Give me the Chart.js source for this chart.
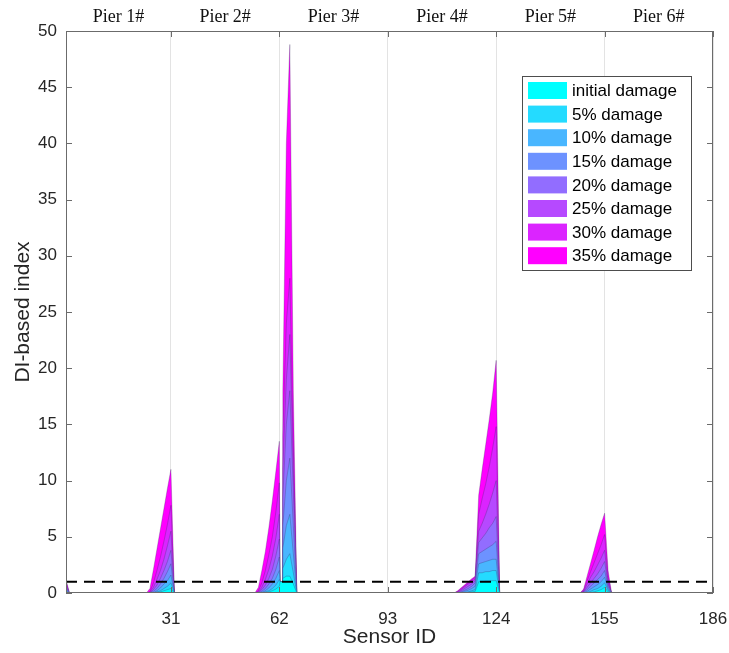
<!DOCTYPE html>
<html>
<head>
<meta charset="utf-8">
<script src="https://cdn.jsdelivr.net/npm/chart.js@4.4.0/dist/chart.umd.min.js"></script>
<style>
  html, body { margin: 0; padding: 0; background: #fff; }
  #caja { width: 729px; height: 653px; }
</style>
</head>
<body>
<div id="caja"><canvas id="grafica" width="729" height="653"></canvas></div>
<script>
// posiciones de sensores (solo los puntos donde cambia la curva)
const sensorIds = [1, 2, 24, 25, 26, 27, 28, 29, 30, 31, 32, 55, 56, 57, 58, 59, 60, 61, 62, 62.2, 62.9, 63, 64, 65, 66, 67,
    112, 113, 114, 115, 116, 117, 118, 119, 120, 121, 122, 123, 124, 125, 148, 149, 150, 151, 152, 153, 154, 155, 156, 157, 186];

const d00 = [0.05, 0,
    0, 0, 0, 0.05, 0.1, 0.2, 0.3, 0.4, 0,
    0, 0, 0, 0, 0.1, 0.2, 0.35, 0.6, 1.0, 1.0, 1.3, 1.5, 1.5, 0.8, 0,
    0, 0, 0, 0, 0.05, 0.1, 0.15, 1.0, 1.0, 1.05, 1.05, 1.1, 1.1, 0,
    0, 0, 0, 0.05, 0.1, 0.2, 0.3, 0.5, 0.1, 0, 0];
const d05 = [0.15, 0,
    0, 0, 0, 0.1, 0.2, 0.4, 0.6, 0.9, 0,
    0, 0, 0, 0.1, 0.2, 0.4, 0.7, 1.2, 1.0, 1.0, 2.2, 3, 3.5, 1.8, 0,
    0, 0, 0, 0.05, 0.1, 0.2, 0.3, 1.8, 1.8, 1.9, 1.9, 2.0, 2.0, 0,
    0, 0, 0.05, 0.15, 0.3, 0.4, 0.6, 0.9, 0.25, 0, 0];
const d10 = [0.3, 0,
    0, 0, 0.05, 0.2, 0.45, 0.8, 1.1, 1.6, 0,
    0, 0, 0.05, 0.2, 0.45, 0.8, 1.3, 2.0, 1.0, 1.0, 4, 6, 7, 3.5, 0,
    0, 0, 0.05, 0.15, 0.25, 0.4, 0.6, 2.6, 2.7, 2.8, 2.9, 3.0, 3.0, 0,
    0, 0, 0.15, 0.35, 0.55, 0.75, 1.0, 1.4, 0.4, 0, 0];
const d15 = [0.45, 0,
    0, 0, 0.15, 0.4, 0.8, 1.3, 1.9, 2.6, 0,
    0, 0, 0.15, 0.4, 0.8, 1.3, 2.1, 3.2, 1.0, 1.0, 6, 10, 12, 6, 0,
    0, 0, 0.1, 0.25, 0.4, 0.6, 0.9, 3.5, 3.7, 3.9, 4.1, 4.3, 4.6, 0,
    0, 0.05, 0.3, 0.6, 0.9, 1.2, 1.5, 2.0, 0.6, 0, 0];
const d20 = [0.6, 0,
    0, 0, 0.3, 0.7, 1.3, 2.0, 2.8, 3.8, 0,
    0, 0.05, 0.3, 0.7, 1.3, 2.1, 3.3, 4.8, 1.0, 1.0, 8.5, 15, 18, 9, 0,
    0, 0.05, 0.2, 0.4, 0.6, 0.8, 1.1, 4.5, 4.9, 5.3, 5.8, 6.2, 6.8, 0,
    0, 0.1, 0.5, 0.9, 1.3, 1.7, 2.2, 2.8, 0.8, 0, 0];
const d25 = [0.8, 0,
    0, 0.05, 0.5, 1.2, 2.0, 3.0, 4.2, 5.5, 0,
    0, 0.1, 0.5, 1.2, 2.1, 3.3, 4.9, 7.0, 1.0, 1.0, 11, 19, 23, 11, 0,
    0, 0.1, 0.3, 0.55, 0.8, 1.0, 1.25, 5.5, 6.2, 7.0, 7.9, 8.9, 10.0, 0,
    0, 0.15, 0.8, 1.4, 1.9, 2.5, 3.1, 3.8, 1.0, 0, 0];
const d30 = [1.0, 0,
    0, 0.1, 0.9, 2.0, 3.2, 4.6, 6.1, 7.8, 0,
    0, 0.2, 0.9, 2.0, 3.4, 5.0, 7.2, 9.8, 1.0, 1.0, 14, 24, 28, 13, 0,
    0, 0.15, 0.4, 0.65, 0.9, 1.15, 1.4, 7.0, 8.4, 9.7, 11.2, 12.9, 14.8, 0,
    0, 0.25, 1.1, 1.9, 2.7, 3.5, 4.3, 5.2, 1.4, 0, 0];
const d35 = [1.2, 0,
    0, 0.4, 2.1, 3.9, 5.7, 7.5, 9.3, 11.0, 0,
    0, 0.5, 2.0, 3.7, 5.8, 8.2, 10.8, 13.5, 1.0, 1.0, 18, 40, 48.8, 18, 0,
    0, 0.2, 0.47, 0.73, 1.0, 1.26, 1.5, 8.7, 11.0, 13.2, 15.4, 17.8, 20.7, 0,
    0, 0.35, 1.5, 2.65, 3.8, 5.0, 6.1, 7.1, 2.0, 0, 0];

const etiquetas = ['initial damage', '5% damage', '10% damage', '15% damage', '20% damage', '25% damage', '30% damage', '35% damage'];
const series = [d00, d05, d10, d15, d20, d25, d30, d35];
const colores = ['rgb(0,255,255)', 'rgb(36,219,255)', 'rgb(73,182,255)', 'rgb(109,146,255)',
    'rgb(146,109,255)', 'rgb(182,73,255)', 'rgb(219,36,255)', 'rgb(255,0,255)'];

const xTicks = [31, 62, 93, 124, 155, 186];
const yTicks = [0, 5, 10, 15, 20, 25, 30, 35, 40, 45, 50];
const pilas = ['Pier 1#', 'Pier 2#', 'Pier 3#', 'Pier 4#', 'Pier 5#', 'Pier 6#'];
const limitesPilas = [1, 31, 62, 93, 124, 155, 186];
const umbral = 1;

const datasets = series.map(function (s, i) {
    return {
        label: etiquetas[i],
        data: sensorIds.map(function (x, j) { return { x: x, y: s[j] }; }),
        backgroundColor: colores[i],
        borderColor: 'rgba(50,40,90,0.45)',
        borderWidth: 0.6,
        fill: 'origin',
        pointRadius: 0,
        tension: 0
    };
});
// linea de umbral
datasets.push({
    label: 'umbral',
    data: [{ x: 1, y: umbral }, { x: 186, y: umbral }],
    borderColor: '#000',
    borderWidth: 2,
    borderDash: [11, 7],
    fill: false,
    pointRadius: 0,
    order: -1
});

const marco = {
    id: 'marco',
    afterDraw: function (chart) {
        const c = chart.ctx;
        const a = chart.chartArea;
        const x = chart.scales.x, y = chart.scales.y;
        c.save();
        // caja
        c.strokeStyle = '#6b6b6b';
        c.lineWidth = 1;
        c.strokeRect(Math.round(a.left) + 0.5, Math.round(a.top) + 0.5,
            Math.round(a.right - a.left) - 1, Math.round(a.bottom - a.top) - 1);
        c.beginPath();
        xTicks.forEach(function (v) {
            const px = Math.round(x.getPixelForValue(v)) + 0.5;
            c.moveTo(px, a.bottom); c.lineTo(px, a.bottom - 6);
            c.moveTo(px, a.top); c.lineTo(px, a.top + 6);
        });
        yTicks.forEach(function (v) {
            const py = Math.round(y.getPixelForValue(v)) + 0.5;
            c.moveTo(a.left, py); c.lineTo(a.left + 6, py);
            c.moveTo(a.right, py); c.lineTo(a.right - 6, py);
        });
        c.stroke();
        // nombres de pilas
        c.fillStyle = '#111';
        c.font = '18px "Liberation Serif", "Times New Roman", serif';
        c.textAlign = 'center';
        c.textBaseline = 'middle';
        pilas.forEach(function (p, i) {
            const cx = (x.getPixelForValue(limitesPilas[i]) + x.getPixelForValue(limitesPilas[i + 1])) / 2;
            c.fillText(p, cx, 17);
        });
        // leyenda
        const lx = 522, ly = 76, lw = 169, lh = 194;
        c.fillStyle = '#fff';
        c.fillRect(lx, ly, lw, lh);
        c.strokeStyle = '#4d4d4d';
        c.strokeRect(lx + 0.5, ly + 0.5, lw, lh);
        c.font = '17px "Liberation Sans", Arial, sans-serif';
        c.textAlign = 'left';
        etiquetas.forEach(function (t, i) {
            const cy = 90.5 + i * 23.6;
            c.fillStyle = colores[i];
            c.fillRect(528, cy - 8.5, 39, 17);
            c.fillStyle = '#000';
            c.fillText(t, 572, cy + 1);
        });
        c.restore();
    }
};

const chart = new Chart(document.getElementById('grafica').getContext('2d'), {
    type: 'line',
    data: { datasets: datasets },
    options: {
        responsive: false,
        animation: false,
        layout: { padding: { left: 0, right: 16, top: 31, bottom: 0 } },
        plugins: { legend: { display: false }, tooltip: { enabled: false } },
        scales: {
            x: {
                type: 'linear',
                min: 1,
                max: 186,
                afterBuildTicks: function (s) { s.ticks = xTicks.map(function (v) { return { value: v }; }); },
                afterFit: function (s) { s.height = 60; s.paddingLeft = 0; s.paddingRight = 0; },
                grid: { color: '#e3e3e3', drawTicks: false },
                border: { display: false },
                ticks: { color: '#262626', padding: 16, maxRotation: 0, font: { size: 17, family: '"Liberation Sans", Arial, sans-serif' } },
                title: { display: true, text: 'Sensor ID', color: '#262626', padding: { top: 0, bottom: 3 },
                    font: { size: 21, family: '"Liberation Sans", Arial, sans-serif' } }
            },
            y: {
                min: 0,
                max: 50,
                afterBuildTicks: function (s) { s.ticks = yTicks.map(function (v) { return { value: v }; }); },
                afterFit: function (s) { s.width = 66; },
                grid: { display: false, drawTicks: false },
                border: { display: false },
                ticks: { color: '#262626', padding: 9, font: { size: 17, family: '"Liberation Sans", Arial, sans-serif' } },
                title: { display: true, text: 'DI-based index', color: '#262626', padding: { top: 11, bottom: 0 },
                    font: { size: 21, family: '"Liberation Sans", Arial, sans-serif' } }
            }
        }
    },
    plugins: [marco]
});
</script>
</body>
</html>
